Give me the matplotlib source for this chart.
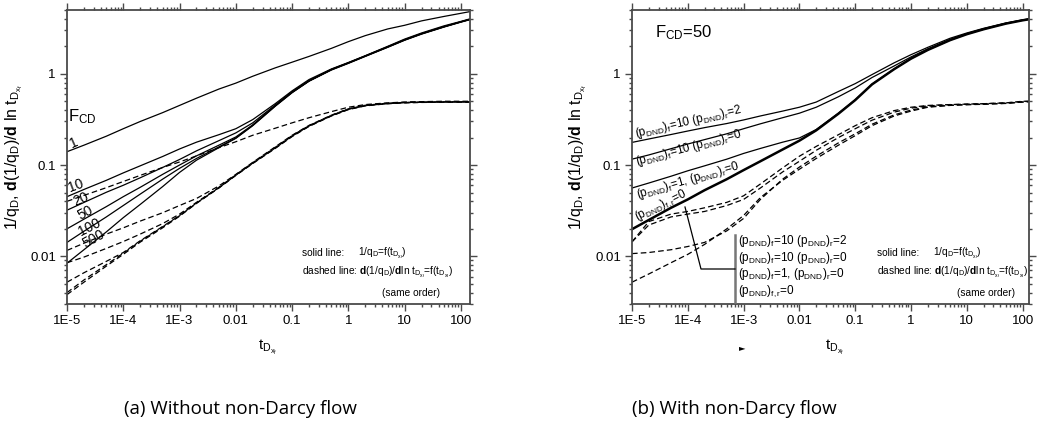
import numpy as np
import matplotlib
matplotlib.use('Agg')
import matplotlib.pyplot as plt
from matplotlib.ticker import LogLocator, NullFormatter, FixedLocator, FixedFormatter

plt.rcParams['font.family'] = ['Liberation Sans', 'DejaVu Sans']
plt.rcParams['mathtext.fontset'] = 'custom'
plt.rcParams['mathtext.rm'] = 'Liberation Sans'
plt.rcParams['mathtext.it'] = 'Liberation Sans'
plt.rcParams['mathtext.bf'] = 'Liberation Sans:bold'

# ---------------- data (a): without non-Darcy flow ----------------
t_a = [1e-5, 2e-5, 5e-5, 1e-4, 2e-4, 5e-4, 1e-3, 2e-3, 5e-3, 0.01, 0.02, 0.05,
       0.1, 0.2, 0.5, 1, 2, 5, 10, 20, 50, 100, 145]
fcd_labels = ['1', '10', '20', '50', '100', '500']
sol_fcd1 = [0.14, 0.165, 0.207, 0.25, 0.30, 0.375, 0.45, 0.54, 0.68, 0.79, 0.94, 1.16,
            1.34, 1.55, 1.90, 2.25, 2.62, 3.10, 3.40, 3.80, 4.25, 4.60, 4.80]
sol_fcd10 = [0.045, 0.054, 0.068, 0.082, 0.098, 0.124, 0.15, 0.178, 0.215, 0.25, 0.315, 0.47,
             0.65, 0.865, 1.13, 1.33, 1.58, 2.00, 2.40, 2.80, 3.35, 3.75, 4.00]
sol_fcd20 = [0.032, 0.0389, 0.0503, 0.060, 0.0725, 0.094, 0.115, 0.143, 0.185, 0.225, 0.29, 0.455,
             0.635, 0.84, 1.12, 1.32, 1.57, 1.98, 2.365, 2.76, 3.29, 3.72, 3.96]
sol_fcd50 = [0.020, 0.0255, 0.035, 0.045, 0.057, 0.079, 0.100, 0.126, 0.165, 0.203, 0.276, 0.447,
             0.628, 0.835, 1.113, 1.315, 1.565, 1.97, 2.355, 2.75, 3.28, 3.71, 3.95]
sol_fcd100 = [0.0142, 0.0188, 0.027, 0.036, 0.048, 0.070, 0.092, 0.118, 0.158, 0.198, 0.272, 0.443,
              0.624, 0.832, 1.107, 1.31, 1.56, 1.96, 2.345, 2.74, 3.27, 3.70, 3.94]
sol_fcd500 = [0.0084, 0.0118, 0.0185, 0.0265, 0.037, 0.058, 0.083, 0.113, 0.155, 0.196, 0.27, 0.44,
              0.62, 0.83, 1.10, 1.30, 1.55, 1.95, 2.33, 2.72, 3.25, 3.68, 3.92]
der_fcd1 = [0.040, 0.0465, 0.0565, 0.066, 0.077, 0.094, 0.108, 0.126, 0.155, 0.18, 0.212, 0.253,
            0.29, 0.33, 0.385, 0.43, 0.46, 0.48, 0.49, 0.495, 0.50, 0.50, 0.50]
der_fcd10 = [0.0116, 0.0139, 0.0175, 0.0205, 0.0243, 0.030, 0.036, 0.043, 0.059, 0.079, 0.107, 0.158,
             0.212, 0.272, 0.352, 0.413, 0.452, 0.476, 0.486, 0.49, 0.493, 0.494, 0.494]
der_fcd20 = [0.0085, 0.0098, 0.0122, 0.0145, 0.0175, 0.0228, 0.029, 0.039, 0.057, 0.078, 0.106, 0.156,
             0.21, 0.27, 0.35, 0.411, 0.45, 0.474, 0.485, 0.489, 0.492, 0.493, 0.493]
der_fcd50 = [0.0052, 0.0066, 0.0088, 0.0110, 0.0148, 0.0212, 0.028, 0.0385, 0.0565, 0.0775, 0.105, 0.154,
             0.208, 0.268, 0.348, 0.409, 0.448, 0.472, 0.484, 0.488, 0.491, 0.492, 0.492]
der_fcd100 = [0.0040, 0.0055, 0.0081, 0.0108, 0.0146, 0.021, 0.0278, 0.0383, 0.0563, 0.0772, 0.1045, 0.153,
              0.207, 0.267, 0.347, 0.407, 0.447, 0.471, 0.482, 0.487, 0.49, 0.49, 0.49]
der_fcd500 = [0.0038, 0.0052, 0.0078, 0.0105, 0.0143, 0.0205, 0.0275, 0.038, 0.056, 0.077, 0.104, 0.152,
              0.205, 0.265, 0.345, 0.405, 0.445, 0.47, 0.48, 0.485, 0.488, 0.488, 0.488]

# ---------------- data (b): with non-Darcy flow, F_CD = 50 ----------------
t_b = [1e-5, 2e-5, 5e-5, 1e-4, 2e-4, 5e-4, 1e-3, 2e-3, 5e-3, 0.01, 0.02, 0.05,
       0.1, 0.2, 0.5, 1, 2, 5, 10, 20, 50, 100, 130]
sol_f10_r2 = [0.177, 0.193, 0.216, 0.236, 0.257, 0.285, 0.312, 0.345, 0.39, 0.43, 0.49, 0.64,
              0.78, 0.98, 1.32, 1.62, 1.95, 2.45, 2.80, 3.15, 3.60, 3.90, 4.00]
sol_f10_r0 = [0.116, 0.129, 0.151, 0.170, 0.190, 0.220, 0.250, 0.283, 0.33, 0.37, 0.43, 0.56,
              0.70, 0.91, 1.22, 1.53, 1.88, 2.38, 2.75, 3.10, 3.57, 3.88, 3.98]
sol_f1_r0 = [0.056, 0.0635, 0.0754, 0.0865, 0.098, 0.116, 0.134, 0.152, 0.178, 0.198, 0.245, 0.37,
             0.52, 0.77, 1.13, 1.47, 1.83, 2.34, 2.72, 3.08, 3.55, 3.86, 3.96]
sol_fr0 = [0.0198, 0.025, 0.034, 0.042, 0.053, 0.070, 0.088, 0.110, 0.148, 0.185, 0.24, 0.365,
           0.515, 0.765, 1.125, 1.465, 1.825, 2.335, 2.715, 3.075, 3.545, 3.855, 3.955]
der_f10_r2 = [0.0144, 0.024, 0.029, 0.031, 0.034, 0.039, 0.046, 0.062, 0.093, 0.125, 0.16, 0.215,
              0.27, 0.33, 0.395, 0.43, 0.45, 0.46, 0.465, 0.47, 0.48, 0.50, 0.50]
der_f10_r0 = [0.0144, 0.022, 0.027, 0.029, 0.031, 0.036, 0.042, 0.056, 0.084, 0.11, 0.145, 0.20,
              0.25, 0.31, 0.38, 0.42, 0.445, 0.458, 0.465, 0.47, 0.48, 0.495, 0.50]
der_f1_r0 = [0.0107, 0.011, 0.0118, 0.0128, 0.0142, 0.019, 0.026, 0.042, 0.07, 0.095, 0.125, 0.175,
             0.22, 0.28, 0.355, 0.40, 0.435, 0.452, 0.46, 0.465, 0.475, 0.49, 0.495]
der_fr0 = [0.0052, 0.0064, 0.0085, 0.0105, 0.0135, 0.020, 0.028, 0.044, 0.068, 0.09, 0.118, 0.165,
           0.21, 0.27, 0.345, 0.39, 0.43, 0.45, 0.458, 0.463, 0.473, 0.49, 0.495]

xtick_vals = [1e-5, 1e-4, 1e-3, 1e-2, 0.1, 1, 10, 100]
xtick_labels = ['1E-5', '1E-4', '1E-3', '0.01', '0.1', '1', '10', '100']
ytick_vals = [0.01, 0.1, 1]
ytick_labels = ['0.01', '0.1', '1']

W, H = 1039, 438
fig = plt.figure(figsize=(W / 100, H / 100), dpi=100)


def fx(x):
    return x / W


def fy(y):
    return 1 - y / H


axL = fig.add_axes([fx(67), fy(304), (470 - 67) / W, (304 - 10) / H])
axR = fig.add_axes([fx(632), fy(304), (1029 - 632) / W, (304 - 10) / H])

spine_c = '#4a4a4a'
ylab = r'1/q$_\mathrm{D}$, $\mathbf{d}$(1/q$_\mathrm{D}$)/$\mathbf{d}$ ln t$_{\mathrm{D}_{\mathrm{x_f}}}$'
xlab = r't$_{\mathrm{D}_{\mathrm{x_f}}}$'

for ax, xmax in ((axL, 145), (axR, 130)):
    ax.set_xscale('log')
    ax.set_yscale('log')
    ax.set_xlim(1e-5, xmax)
    ax.set_ylim(0.003, 5)
    ax.xaxis.set_major_locator(FixedLocator(xtick_vals))
    ax.xaxis.set_major_formatter(FixedFormatter(xtick_labels))
    ax.yaxis.set_major_locator(FixedLocator(ytick_vals))
    ax.yaxis.set_major_formatter(FixedFormatter(ytick_labels))
    ax.xaxis.set_minor_locator(LogLocator(base=10, subs=np.arange(2, 10), numticks=30))
    ax.yaxis.set_minor_locator(LogLocator(base=10, subs=np.arange(2, 10), numticks=30))
    ax.xaxis.set_minor_formatter(NullFormatter())
    ax.yaxis.set_minor_formatter(NullFormatter())
    ax.tick_params(which='both', direction='out', top=True, right=True, color=spine_c, width=1.0, labelsize=9.5)
    ax.tick_params(which='major', length=5, pad=3)
    ax.tick_params(which='minor', length=2.5)
    for s in ax.spines.values():
        s.set_color(spine_c)
        s.set_linewidth(1.3)

dash_c = (0, (4.5, 2.5))

# ---- panel (a) ----
sols = [sol_fcd1, sol_fcd10, sol_fcd20, sol_fcd50, sol_fcd100, sol_fcd500]
ders = [der_fcd1, der_fcd10, der_fcd20, der_fcd50, der_fcd100, der_fcd500]
for s in sols:
    axL.plot(t_a, s, color='k', lw=0.9)
for d in ders:
    axL.plot(t_a, d, color='k', lw=0.9, ls=dash_c)

lab_pos = [(74, 143, 24), (76, 186, 20), (81, 199, 23), (85, 213, 28), (89, 227, 27), (94, 239, 29)]
for lab, (px, py, rot) in zip(fcd_labels, lab_pos):
    fig.text(fx(px), fy(py), lab, ha='center', va='center', rotation=rot, fontsize=10)
fig.text(fx(68), fy(117), r'F$_\mathrm{CD}$', ha='left', va='center', fontsize=12)


def note(x0):
    fs = 7.3
    fig.text(fx(x0), fy(253), 'solid line:', ha='left', va='center', fontsize=fs)
    fig.text(fx(x0 + 56), fy(253), r'1/q$_\mathrm{D}$=f(t$_{\mathrm{D}_{\mathrm{x_f}}}$)', ha='left', va='center', fontsize=fs)
    fig.text(fx(x0), fy(272),
             r'dashed line: $\mathbf{d}$(1/q$_\mathrm{D}$)/$\mathbf{d}$ln t$_{\mathrm{D}_{\mathrm{x_f}}}$=f(t$_{\mathrm{D}_{\mathrm{x_f}}}$)',
             ha='left', va='center', fontsize=fs)
    fig.text(fx(x0 + 80), fy(293), '(same order)', ha='left', va='center', fontsize=fs)


note(302)
note(877)

# ---- panel (b) ----
for s, lw in ((sol_f10_r2, 0.9), (sol_f10_r0, 0.9), (sol_f1_r0, 0.9), (sol_fr0, 1.8)):
    axR.plot(t_b, s, color='k', lw=lw)
for d in (der_f10_r2, der_f10_r0, der_f1_r0, der_fr0):
    axR.plot(t_b, d, color='k', lw=0.9, ls=dash_c)

fig.text(fx(655), fy(33), r'F$_\mathrm{CD}$=50', ha='left', va='center', fontsize=12)

case_labels = [r'(p$_\mathrm{DND}$)$_\mathrm{f}$=10 (p$_\mathrm{DND}$)$_\mathrm{r}$=2',
               r'(p$_\mathrm{DND}$)$_\mathrm{f}$=10 (p$_\mathrm{DND}$)$_\mathrm{r}$=0',
               r'(p$_\mathrm{DND}$)$_\mathrm{f}$=1, (p$_\mathrm{DND}$)$_\mathrm{r}$=0',
               r'(p$_\mathrm{DND}$)$_\mathrm{f,r}$=0']
rot_pos = [(636, 137, 13), (637, 165, 15), (638, 198, 16), (637, 220, 26)]
for lab, (px, py, rot) in zip(case_labels, rot_pos):
    fig.text(fx(px), fy(py), lab, ha='left', va='baseline', rotation=rot,
             rotation_mode='anchor', fontsize=8.5)

fig.add_artist(plt.Line2D([fx(735), fx(735)], [fy(235), fy(302)], color='#777777', lw=1.8))
fig.add_artist(plt.Line2D([fx(685), fx(701), fx(735)], [fy(207), fy(269), fy(269)], color='k', lw=0.9))
for lab, py in zip(case_labels, [241, 258, 274, 291]):
    fig.text(fx(738), fy(py), lab, ha='left', va='center', fontsize=8.5)

fig.text(fx(742), fy(348), '\u25ba', ha='center', va='center', fontsize=6, family='DejaVu Sans')

# axis labels
for x in (14, 578):
    fig.text(fx(x), fy(157), ylab, rotation=90, ha='center', va='center', fontsize=11.4)
fig.text(fx(268), fy(347), xlab, ha='center', va='center', fontsize=11)
fig.text(fx(835), fy(347), xlab, ha='center', va='center', fontsize=11)

# captions
fig.text(fx(240), fy(409), '(a) Without non-Darcy flow', ha='center', va='center', fontsize=13.5, family='Open Sans')
fig.text(fx(734), fy(409), '(b) With non-Darcy flow', ha='center', va='center', fontsize=13.5, family='Open Sans')

fig.savefig('out.png', dpi=100)
